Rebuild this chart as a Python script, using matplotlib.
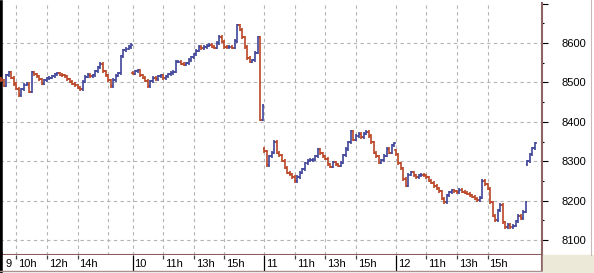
import numpy as np
import matplotlib.pyplot as plt
from matplotlib.patches import Rectangle
from matplotlib.lines import Line2D

plt.rcParams['font.family'] = ['Liberation Sans', 'DejaVu Sans']

# intraday index, 10 minute bars from 9:00, one list of closes per session
day_labels = ['9', '10', '11', '12', '13']
day_open = [8510, 8525, 8332, 8328, 8292]

close_d9 = [8505, 8492, 8518, 8526, 8512, 8496, 8484, 8468, 8482, 8494,
            8497, 8476, 8526, 8521, 8516, 8508, 8497, 8505, 8510, 8512,
            8516, 8521, 8523, 8520, 8518, 8515, 8508, 8502, 8497, 8493,
            8486, 8482, 8502, 8514, 8519, 8516, 8518, 8528, 8538, 8547,
            8528, 8518, 8505, 8490, 8506, 8517, 8523, 8566, 8582, 8585,
            8590, 8595]
close_d10 = [8522, 8528, 8531, 8518, 8512, 8504, 8490, 8503, 8511, 8508,
             8515, 8518, 8510, 8516, 8521, 8524, 8527, 8552, 8553, 8547,
             8545, 8548, 8557, 8564, 8571, 8580, 8590, 8587, 8590, 8593,
             8595, 8591, 8588, 8600, 8616, 8603, 8590, 8589, 8591, 8588,
             8605, 8645, 8634, 8615, 8590, 8562, 8553, 8556, 8575, 8615,
             8405, 8440]
close_d11 = [8325, 8290, 8312, 8322, 8350, 8322, 8315, 8301, 8284, 8271,
             8267, 8260, 8249, 8260, 8271, 8280, 8295, 8301, 8303, 8304,
             8312, 8330, 8320, 8312, 8306, 8292, 8286, 8297, 8292, 8289,
             8296, 8315, 8331, 8348, 8376, 8355, 8364, 8370, 8361, 8370,
             8374, 8364, 8348, 8322, 8312, 8296, 8302, 8314, 8332, 8322,
             8340, 8346]
close_d12 = [8318, 8295, 8282, 8255, 8238, 8266, 8272, 8264, 8260, 8264,
             8266, 8264, 8259, 8251, 8245, 8237, 8231, 8224, 8205, 8196,
             8213, 8221, 8226, 8224, 8222, 8227, 8223, 8220, 8217, 8214,
             8210, 8205, 8201, 8207, 8250, 8241, 8230, 8196, 8162, 8150,
             8176, 8190, 8145, 8132, 8138, 8133, 8136, 8148, 8162, 8155,
             8172, 8196]
close_d13 = [8300, 8318, 8333, 8346]
sessions = [close_d9, close_d10, close_d11, close_d12, close_d13]

grid_hours = [[10, 12, 14, 16], [11, 13, 15], [11, 13, 15], [11, 13, 15]]
label_hours = [[10, 12, 14], [11, 13, 15], [11, 13, 15], [11, 13, 15]]
price_ticks = [8100, 8200, 8300, 8400, 8500, 8600, 8700]

DAY = 8.6          # session width in hours on the axis
STEP = 10 / 60.0
PXH = 15.3         # pixels per hour

xs, opens, closes = [], [], []
for d, cl in enumerate(sessions):
    prev = day_open[d]
    for i, c in enumerate(cl):
        xs.append(d * DAY + i * STEP)
        opens.append(prev)
        closes.append(c)
        prev = c
xs = np.array(xs)
opens = np.array(opens)
closes = np.array(closes)

fig = plt.figure(figsize=(5.94, 2.73), dpi=100)
fig.patch.set_facecolor('white')

ax = fig.add_axes([0, 18 / 273, 542 / 594, 252 / 273])
ax.set_xlim(-1 / PXH, 541 / PXH)
ax.set_ylim(8062, 8701.5)

grid_kw = dict(color='#b4b4b4', lw=0.8, dashes=(3, 3), zorder=1)
for v in price_ticks[:-1]:
    ax.axhline(v, **grid_kw)
for d in range(len(grid_hours)):
    if d > 0:
        ax.axvline(d * DAY, **grid_kw)
    for h in grid_hours[d]:
        ax.axvline(d * DAY + h - 9, **grid_kw)

up = closes >= opens
for mask, col in [(up, '#40449a'), (~up, '#bb4526')]:
    lo = np.minimum(opens[mask], closes[mask])
    hi = np.maximum(opens[mask], closes[mask])
    ax.vlines(xs[mask], lo - 4, hi + 4, color=col, lw=1.2, zorder=3)
    ax.hlines(opens[mask], xs[mask] - 0.1, xs[mask], color=col, lw=1.1, zorder=3)
    ax.hlines(closes[mask], xs[mask], xs[mask] + 0.1, color=col, lw=1.1, zorder=3)

ax.set_xticks([])
ax.yaxis.tick_right()
ax.set_yticks(price_ticks)
ax.set_yticklabels([str(v) if v < 8700 else '' for v in price_ticks])
ax.set_yticks([v + 50 for v in price_ticks[:-1]], minor=True)
ax.tick_params(axis='y', which='major', length=4.3, width=0.8, color='black',
               pad=10, labelsize=8, labelcolor='black')
ax.tick_params(axis='y', which='minor', length=1.6, width=0.8, color='black')
ax.spines['top'].set_visible(False)
ax.spines['left'].set_color('black')
ax.spines['left'].set_linewidth(4)
ax.spines['right'].set_color('#8c6464')
ax.spines['right'].set_linewidth(1.5)
ax.spines['bottom'].set_color('#8c5a5a')
ax.spines['bottom'].set_linewidth(1.5)

# time label strip under the chart
sx = fig.add_axes([0, 2 / 273, 542 / 594, 16 / 273])
sx.set_xlim(ax.get_xlim())
sx.set_ylim(0, 1)
sx.set_xticks([])
sx.set_yticks([])
sx.spines['top'].set_visible(False)
sx.spines['left'].set_color('black')
sx.spines['left'].set_linewidth(4)
sx.spines['right'].set_color('#8c6464')
sx.spines['right'].set_linewidth(1.5)
sx.spines['bottom'].set_color('#a89090')
sx.spines['bottom'].set_linewidth(1)

off = 2 / PXH
for d in range(len(label_hours)):
    x0 = d * DAY
    if d > 0:
        sx.vlines(x0, 0, 1, color='black', lw=0.9)
    sx.text(x0 + (4 if d == 0 else 2) / PXH, 0.42, day_labels[d],
            fontsize=8, ha='left', va='center')
    for h in label_hours[d]:
        xh = x0 + h - 9
        sx.vlines(xh, 0.72, 1, color='#404040', lw=0.9)
        sx.text(xh + off, 0.42, f'{h}h', fontsize=8, ha='left', va='center')

fig.patches.append(Rectangle((543 / 594, 0), 51 / 594, 18 / 273,
                             transform=fig.transFigure, color='#ece9d8', zorder=0))
fig.lines.append(Line2D([591 / 594, 591 / 594], [18 / 273, 1],
                        transform=fig.transFigure, color='#c8b8b8', lw=0.8))

fig.savefig('out.png', dpi=100)
